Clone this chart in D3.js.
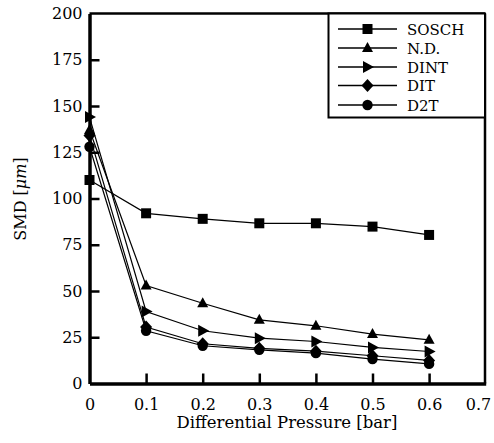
<!DOCTYPE html>
<html><head><meta charset="utf-8">
<script src="https://cdn.jsdelivr.net/npm/d3@7"></script>
<style>body{margin:0;background:#fff}text{font-family:"DejaVu Serif","Liberation Serif",serif;fill:#000}</style>
</head><body><svg id="c" width="494" height="443"></svg>
<script>
const pressures = [0, 0.1, 0.2, 0.3, 0.4, 0.5, 0.6];
const seriesNames = ["SOSCH", "N.D.", "DINT", "DIT", "D2T"];
const sosch = [110, 92, 89, 86.6, 86.6, 84.8, 80.3];
const nd = [137, 53, 43.4, 34.4, 31.2, 26.7, 23.6];
const dint = [144, 38.9, 28.5, 24.5, 22.7, 19.5, 17.3];
const dit = [134, 30.5, 21.5, 19, 17.5, 15, 12.5];
const d2t = [128, 28.5, 20.4, 18.2, 16.4, 13.2, 10.6];
const xTicks = [0, 0.1, 0.2, 0.3, 0.4, 0.5, 0.6, 0.7];
const yTicks = [0, 25, 50, 75, 100, 125, 150, 175, 200];
const seriesValues = [sosch, nd, dint, dit, d2t];
const markers = ["square", "triangle", "right", "diamond", "circle"];

const svg = d3.select("#c");
const L = 89.5, R = 485, T = 13.5, B = 383.5;
const x = d3.scaleLinear().domain([0, 0.7]).range([L, 485.7]);
const y = d3.scaleLinear().domain([0, 200]).range([B, T]);

function sym(type) {
  const p = d3.path();
  if (type === "square") { p.rect(-5, -5, 10, 10); }
  else if (type === "triangle") { p.moveTo(0, -6); p.lineTo(5.5, 4); p.lineTo(-5.5, 4); p.closePath(); }
  else if (type === "right") { p.moveTo(6.5, 0); p.lineTo(-4.5, -6); p.lineTo(-4.5, 6); p.closePath(); }
  else if (type === "diamond") { p.moveTo(0, -6.5); p.lineTo(6, 0); p.lineTo(0, 6.5); p.lineTo(-6, 0); p.closePath(); }
  else { p.arc(0, 0, 5.2, 0, 2 * Math.PI); }
  return p.toString();
}

const line = d3.line().x((d, i) => x(pressures[i])).y(d => y(d));
seriesValues.forEach((vals) => {
  svg.append("path").attr("d", line(vals)).attr("fill", "none").attr("stroke", "#000").attr("stroke-width", 1.2);
});
seriesValues.forEach((vals, s) => {
  svg.selectAll(null).data(vals).enter().append("path")
    .attr("d", sym(markers[s]))
    .attr("transform", (d, i) => `translate(${x(pressures[i])},${y(d)})`)
    .attr("fill", "#000");
});

svg.append("line").attr("x1", L).attr("x2", R).attr("y1", T).attr("y2", T).attr("stroke", "#000").attr("stroke-width", 2.5);
svg.append("line").attr("x1", R).attr("x2", R).attr("y1", T).attr("y2", B).attr("stroke", "#000").attr("stroke-width", 2.5);

const yAxis = d3.axisLeft(y).tickValues(yTicks).tickFormat(d3.format("d")).tickSizeInner(-10).tickSizeOuter(0).tickPadding(18);
const gy = svg.append("g").attr("transform", `translate(${L},0)`).call(yAxis);
const xAxis = d3.axisBottom(x).tickValues(xTicks).tickFormat(d => d === 0 ? "0" : d3.format(".1f")(d)).tickSizeInner(-10).tickSizeOuter(0).tickPadding(15);
const gx = svg.append("g").attr("transform", `translate(0,${B})`).call(xAxis);
[gx, gy].forEach(g => {
  g.attr("font-family", null);
  g.select(".domain").attr("stroke", "#000").attr("stroke-width", 3.5);
  g.selectAll(".tick line").attr("stroke", "#000").attr("stroke-width", 2.5);
  g.selectAll(".tick text").attr("font-size", 16).attr("fill", "#000");
});
gx.selectAll(".tick").filter(d => d === 0 || d === 0.7).select("line").remove();
gy.selectAll(".tick").filter(d => d === 0 || d === 200).select("line").remove();
gy.selectAll(".tick text").attr("x", -7);
gx.selectAll(".tick").filter(d => d === 0.7).select("text").attr("text-anchor", "end").attr("x", 5);

svg.append("text").attr("x", 287).attr("y", 428).attr("text-anchor", "middle").attr("font-size", 16.5).text("Differential Pressure [bar]");
const yl = svg.append("text").attr("transform", "translate(26,199) rotate(-90)").attr("text-anchor", "middle").attr("font-size", 16);
yl.append("tspan").text("SMD [");
yl.append("tspan").attr("font-style", "italic").text("μm");
yl.append("tspan").text("]");

svg.append("rect").attr("x", 328.5).attr("y", T).attr("width", R - 328.5).attr("height", 104).attr("fill", "#fff").attr("stroke", "#000").attr("stroke-width", 2);
const rowsY = [29, 48, 67, 85.5, 105];
seriesNames.forEach((n, s) => {
  const g = svg.append("g").attr("transform", `translate(0,${rowsY[s]})`);
  g.append("line").attr("x1", 338).attr("x2", 397).attr("y1", 0).attr("y2", 0).attr("stroke", "#000").attr("stroke-width", 1.5);
  g.append("path").attr("d", sym(markers[s])).attr("transform", "translate(367.5,0)").attr("fill", "#000");
  g.append("text").attr("x", 407).attr("y", 5.5).attr("font-size", 15).text(n);
});
</script></body></html>
